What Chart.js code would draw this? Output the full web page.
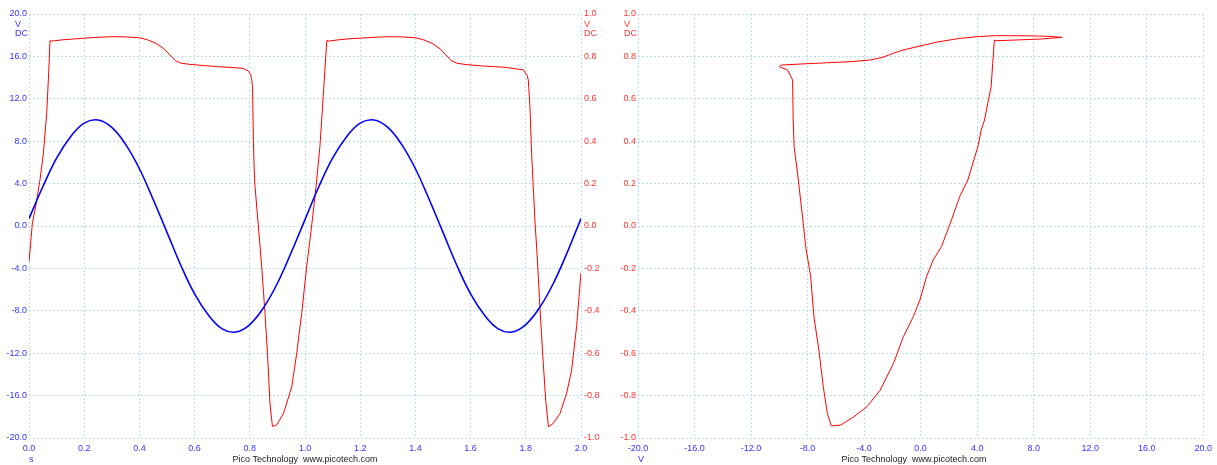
<!DOCTYPE html>
<html>
<head>
<meta charset="utf-8">
<title>Pico Technology</title>
<script src="https://cdn.jsdelivr.net/npm/chart.js@4/dist/chart.umd.min.js"></script>
<style>
  body { margin: 0; background: #fff; }
  .wrap { position: relative; width: 1217px; height: 465px; overflow: hidden; }
  canvas { position: absolute; top: 0; }
  .lbl { position: absolute; font: 9px "Liberation Sans", Arial, sans-serif; line-height: 9px; white-space: pre; }
  .blue { color: #3333ff; }
  .red { color: #ff3333; }
  .foot { color: #222; width: 200px; text-align: center; top: 455px; }
</style>
</head>
<body>
<div class="wrap">
  <canvas id="timeChart" width="610" height="465" style="left:0"></canvas>
  <canvas id="xyChart" width="607" height="465" style="left:610px"></canvas>

  <div class="lbl blue" style="left:15px;top:20px">V</div>
  <div class="lbl blue" style="left:15px;top:29px">DC</div>
  <div class="lbl red" style="left:584px;top:20px">V</div>
  <div class="lbl red" style="left:584px;top:29px">DC</div>
  <div class="lbl red" style="left:624px;top:20px">V</div>
  <div class="lbl red" style="left:624px;top:29px">DC</div>

  <div class="lbl blue" style="left:29px;top:455px">s</div>
  <div class="lbl blue" style="left:638px;top:455px">V</div>

  <div class="lbl foot" style="left:205px">Pico Technology  www.picotech.com</div>
  <div class="lbl foot" style="left:814px">Pico Technology  www.picotech.com</div>
</div>

<script>
// Channel A (blue, left axis) sampled every 0.05 s
const sineTimes = [0.00, 0.05, 0.10, 0.15, 0.20, 0.25, 0.30, 0.35, 0.40, 0.45,
  0.50, 0.55, 0.60, 0.65, 0.70, 0.75, 0.80, 0.85, 0.90, 0.95,
  1.00, 1.05, 1.10, 1.15, 1.20, 1.25, 1.30, 1.35, 1.40, 1.45,
  1.50, 1.55, 1.60, 1.65, 1.70, 1.75, 1.80, 1.85, 1.90, 1.95, 2.00];
const sineVolts = [0.7, 3.7, 6.4, 8.4, 9.7, 10.0, 9.3, 7.7, 5.4, 2.5,
  -0.6, -3.7, -6.4, -8.4, -9.7, -10.0, -9.3, -7.7, -5.4, -2.5,
  0.6, 3.7, 6.4, 8.4, 9.7, 10.0, 9.3, 7.7, 5.4, 2.5,
  -0.6, -3.7, -6.4, -8.4, -9.7, -10.0, -9.3, -7.7, -5.4, -2.5, 0.7];

// Channel B (red, right axis), read at uneven times
const redTimes = [0.000, 0.012, 0.028, 0.040, 0.052, 0.064, 0.072, 0.076, 0.082,
  0.12, 0.16, 0.20, 0.25, 0.30, 0.35, 0.40, 0.43, 0.46, 0.49, 0.51, 0.53, 0.55,
  0.58, 0.63, 0.68, 0.73, 0.776, 0.795, 0.803, 0.807, 0.810, 0.813, 0.816, 0.819,
  0.831, 0.843, 0.855, 0.864, 0.873, 0.882, 0.897, 0.922, 0.952, 0.970, 0.988,
  1.006, 1.024, 1.040, 1.054, 1.066, 1.076, 1.079, 1.085,
  1.12, 1.16, 1.20, 1.25, 1.30, 1.35, 1.40, 1.43, 1.46, 1.49, 1.51, 1.53, 1.55,
  1.58, 1.63, 1.68, 1.73, 1.791, 1.805, 1.809, 1.815, 1.821, 1.827, 1.833, 1.842,
  1.851, 1.861, 1.872, 1.882, 1.900, 1.924, 1.948, 1.966, 1.984, 2.000];
const redVolts = [-0.17, 0.01, 0.12, 0.22, 0.34, 0.53, 0.74, 0.875, 0.872,
  0.878, 0.882, 0.886, 0.890, 0.893, 0.892, 0.888, 0.878, 0.862, 0.835, 0.808, 0.780, 0.768,
  0.763, 0.757, 0.752, 0.748, 0.744, 0.730, 0.715, 0.690, 0.657, 0.400, 0.260, 0.185,
  0.0, -0.19, -0.41, -0.60, -0.836, -0.945, -0.939, -0.884, -0.758, -0.60, -0.412,
  -0.192, 0.0, 0.185, 0.374, 0.61, 0.815, 0.875, 0.872,
  0.878, 0.883, 0.886, 0.890, 0.893, 0.892, 0.888, 0.878, 0.862, 0.835, 0.808, 0.780, 0.768,
  0.762, 0.756, 0.752, 0.748, 0.736, 0.710, 0.689, 0.563, 0.343, 0.185, 0.028, -0.16,
  -0.38, -0.60, -0.821, -0.947, -0.931, -0.884, -0.789, -0.679, -0.475, -0.22];

// XY view: channel A on x, channel B on y, read around the loop
const loopA = [-6.32, -5.66, -4.73, -3.79, -2.86, -1.92, -1.22, -0.52, -0.05, 0.42,
  0.89, 1.47, 2.18, 2.76, 3.34, 3.70, 4.05, 4.29, 4.52, 4.75, 4.99, 5.10, 5.22,
  5.40, 7.0, 8.5, 10.0, 9.0, 7.5, 5.3, 4.0, 2.76, 1.2, -0.05, -1.24, -1.92, -2.66,
  -3.56, -5.0, -6.6, -8.5, -9.89, -10.0, -9.42, -9.06, -9.02, -8.95, -8.71, -8.36,
  -8.13, -7.78, -7.55, -7.20, -6.89, -6.60, -6.32];
const loopB = [-0.943, -0.939, -0.900, -0.852, -0.774, -0.648, -0.522, -0.428, -0.349, -0.239,
  -0.160, -0.098, 0.028, 0.138, 0.217, 0.296, 0.374, 0.453, 0.500, 0.579, 0.657, 0.767, 0.877,
  0.874, 0.878, 0.882, 0.890, 0.895, 0.897, 0.898, 0.893, 0.885, 0.868, 0.849, 0.830, 0.815, 0.796,
  0.783, 0.775, 0.770, 0.764, 0.759, 0.751, 0.736, 0.689, 0.500, 0.374, 0.249, 0.044,
  -0.098, -0.239, -0.428, -0.585, -0.758, -0.884, -0.943];

const blueTick = "#3333ff";
const redTick = "#ff3333";
const gridColor = "rgb(184,222,236)";
const tickFont = { family: "'Liberation Sans', Arial, sans-serif", size: 9 };

/**
 * Builds {x, y} points from two parallel arrays.
 * @param {number[]} xs
 * @param {number[]} ys
 */
function toPoints(xs, ys) {
  return xs.map((x, i) => ({ x: x, y: ys[i] }));
}

const oneDecimal = (v) => Number(v).toFixed(1);

// shared look for the dashed grids
function gridScale(extra) {
  return Object.assign({
    type: "linear",
    grid: { color: gridColor, lineWidth: 1, drawTicks: false },
    border: { display: false, dash: [2, 2] },
  }, extra);
}

const commonPlugins = {
  legend: { display: false },
  tooltip: { enabled: false },
};

// Time view
new Chart(document.getElementById("timeChart"), {
  type: "line",
  data: {
    datasets: [
      {
        data: toPoints(sineTimes, sineVolts),
        yAxisID: "yA",
        borderColor: "#0000ff",
        borderWidth: 1.6,
        pointRadius: 0,
        tension: 0.4,
      },
      {
        data: toPoints(redTimes, redVolts),
        yAxisID: "yB",
        borderColor: "#ff0000",
        borderWidth: 1,
        pointRadius: 0,
        tension: 0,
      },
    ],
  },
  options: {
    responsive: false,
    animation: false,
    layout: { padding: { top: 14, left: 0, right: 0, bottom: 0 } },
    plugins: commonPlugins,
    scales: {
      x: gridScale({
        min: 0, max: 2,
        ticks: { stepSize: 0.2, color: blueTick, font: tickFont, padding: 5, maxRotation: 0, callback: oneDecimal },
        afterFit: (s) => { s.height = 27; },
      }),
      yA: gridScale({
        position: "left",
        min: -20, max: 20,
        ticks: { stepSize: 4, color: blueTick, font: tickFont, padding: 2, callback: oneDecimal },
        afterFit: (s) => { s.width = 29; },
      }),
      yB: gridScale({
        position: "right",
        min: -1, max: 1,
        grid: { drawOnChartArea: false, drawTicks: false },
        ticks: { stepSize: 0.2, color: redTick, font: tickFont, padding: 3, callback: oneDecimal },
        afterFit: (s) => { s.width = 29; },
      }),
    },
  },
});

// XY view
new Chart(document.getElementById("xyChart"), {
  type: "scatter",
  data: {
    datasets: [
      {
        data: toPoints(loopA, loopB),
        showLine: true,
        borderColor: "#ff0000",
        borderWidth: 1,
        pointRadius: 0,
        tension: 0,
      },
    ],
  },
  options: {
    responsive: false,
    animation: false,
    layout: { padding: { top: 14, left: 0, right: 12, bottom: 0 } },
    plugins: commonPlugins,
    scales: {
      x: gridScale({
        min: -20, max: 20,
        ticks: { stepSize: 4, color: blueTick, font: tickFont, padding: 5, maxRotation: 0, callback: oneDecimal },
        afterFit: (s) => { s.height = 27; },
      }),
      y: gridScale({
        position: "left",
        min: -1, max: 1,
        ticks: { stepSize: 0.2, color: redTick, font: tickFont, padding: 2, callback: oneDecimal },
        afterFit: (s) => { s.width = 28; },
      }),
    },
  },
});
</script>
</body>
</html>
